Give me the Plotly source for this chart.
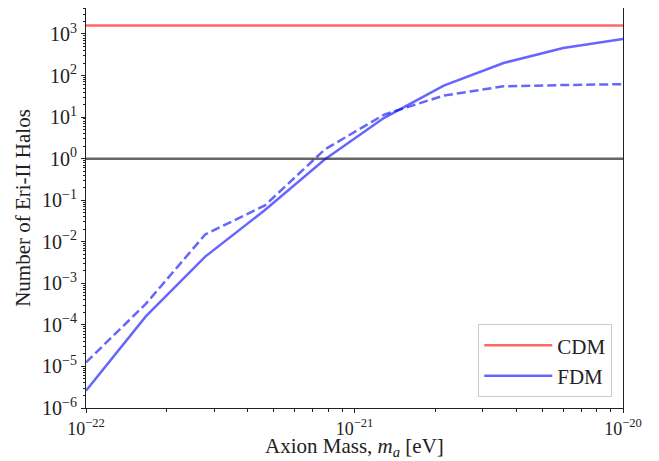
import numpy as np
import plotly.graph_objects as go

# Data
axion_mass = [1.0e-22, 1.67e-22, 2.78e-22, 4.64e-22, 7.74e-22, 1.29e-21,
              2.15e-21, 3.59e-21, 5.99e-21, 1.0e-20]
fdm_solid = [2.6e-6, 1.6e-4, 4.4e-3, 0.058, 0.95, 9.6, 57, 200, 460, 760]
fdm_dashed = [1.25e-5, 3.2e-4, 0.0150, 0.075, 1.65, 11.5, 33, 55, 59, 62]
cdm_value = 1600
threshold = 1.0

x_ticks = [1e-22, 1e-21, 1e-20]
x_ticklabels = ["10<sup>−22</sup>", "10<sup>−21</sup>", "10<sup>−20</sup>"]
y_exps = list(range(-6, 4))
y_ticks = [10.0 ** e for e in y_exps]
y_ticklabels = [f"10<sup>{str(e).replace('-', '−')}</sup>" for e in y_exps]

x_minor = [m * 10.0 ** e for e in (-22, -21) for m in range(2, 10)]
y_minor = [m * 10.0 ** e for e in range(-6, 4) for m in range(2, 10)]

xmin, xmax = 1e-22, 1e-20

font_family = "Liberation Serif, DejaVu Serif, serif"

fig = go.Figure()
fig.add_trace(go.Scatter(x=[xmin, xmax], y=[cdm_value, cdm_value], mode="lines",
                         line=dict(color="rgba(255,0,0,0.6)", width=2.5), name="CDM"))
fig.add_trace(go.Scatter(x=[xmin, xmax], y=[threshold, threshold], mode="lines",
                         line=dict(color="rgba(0,0,0,0.6)", width=2.5), showlegend=False))
fig.add_trace(go.Scatter(x=axion_mass, y=fdm_solid, mode="lines",
                         line=dict(color="rgba(0,0,255,0.6)", width=2.5), name="FDM"))
fig.add_trace(go.Scatter(x=axion_mass, y=fdm_dashed, mode="lines",
                         line=dict(color="rgba(0,0,255,0.6)", width=2.5, dash="9px,4px"),
                         showlegend=False))

axis_common = dict(showgrid=False, zeroline=False, showline=True, linecolor="#222",
                   linewidth=1, mirror=True, ticks="outside", ticklen=4, tickwidth=1,
                   tickcolor="#222")

# page body has an 8px default margin, so the figure is sized/placed to compensate
fig.update_layout(
    width=651, height=453,
    margin=dict(l=78, r=36, t=0, b=53),
    paper_bgcolor="white", plot_bgcolor="white",
    font=dict(family=font_family, color="#222"),
    xaxis=dict(type="log", range=[-22, -20], tickmode="array", tickvals=x_ticks,
               ticktext=x_ticklabels,
               tickfont=dict(family=font_family, size=18, color="#222"),
               minor=dict(tickmode="array", tickvals=x_minor, ticks="outside", ticklen=2.5,
                          tickcolor="#222", showgrid=False),
               **axis_common),
    yaxis=dict(type="log", range=[-6, 3.625], tickmode="array", tickvals=y_ticks,
               ticktext=y_ticklabels,
               tickfont=dict(family=font_family, size=20, color="#222"),
               minor=dict(tickmode="array", tickvals=y_minor, ticks="outside", ticklen=2.5,
                          tickcolor="#222", showgrid=False),
               title=dict(text="Number of Eri-II Halos",
                          font=dict(family=font_family, size=21), standoff=5),
               **axis_common),
    legend=dict(x=0.98, y=0.027, xanchor="right", yanchor="bottom",
                bgcolor="rgba(255,255,255,0.8)", bordercolor="#ccc", borderwidth=1,
                font=dict(family=font_family, size=21, color="#222"),
                itemwidth=68, tracegroupgap=4),
    showlegend=True,
)

fig.add_annotation(text="Axion Mass, <i>m<sub>a</sub></i> [eV]", xref="paper", yref="paper",
                   x=0.5, y=-0.098, xanchor="center", yanchor="middle", showarrow=False,
                   font=dict(family=font_family, size=21, color="#222"))

fig.write_html("out.html")
